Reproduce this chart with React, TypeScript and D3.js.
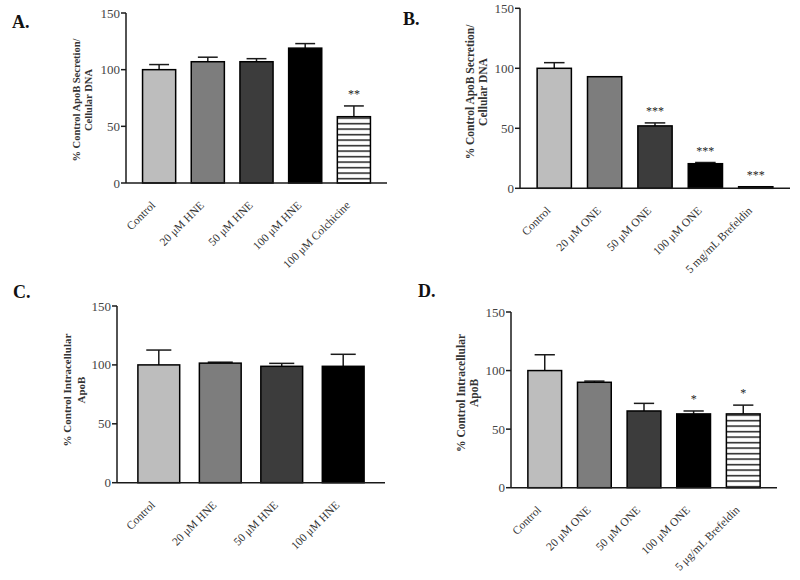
import React from "react";
import * as d3 from "d3";

// ---------- DATA ----------
const catsA = ["Control", "20 μM HNE", "50 μM HNE", "100 μM HNE", "100 μM Colchicine"];
const valsA = [100, 107, 107, 119, 58.5];
const errsA = [4.5, 4, 2.7, 4, 9.5];
const starsA = ["", "", "", "", "**"];

const catsB = ["Control", "20 μM ONE", "50 μM ONE", "100 μM ONE", "5 mg/mL Brefeldin"];
const valsB = [100, 93, 52, 20.5, 1.3];
const errsB = [4.7, 0, 2.5, 1, 0];
const starsB = ["", "", "***", "***", "***"];

const catsC = ["Control", "20 μM HNE", "50 μM HNE", "100 μM HNE"];
const valsC = [100, 101.5, 98.8, 98.8];
const errsC = [12.6, 0.8, 2.5, 10.2];
const starsC = ["", "", "", ""];

const catsD = ["Control", "20 μM ONE", "50 μM ONE", "100 μM ONE", "5 μg/mL Brefeldin"];
const valsD = [100, 90, 65.5, 63, 63];
const errsD = [13.5, 1, 6.5, 2.5, 7.5];
const starsD = ["", "", "", "*", "*"];

const yTicks = [0, 50, 100, 150];
const yMax = 150;

const titleAB = ["% Control ApoB Secretion/", "Cellular DNA"];
const titleCD = ["% Control Intracellular", "ApoB"];

const FILLS = ["#bdbdbd", "#7d7d7d", "#3c3c3c", "#000000", "url(#stripes)"];
const FONT = "'Liberation Serif', 'Times New Roman', serif";

type PanelProps = {
  letter: string;
  letterX: number;
  letterY: number;
  cats: string[];
  vals: number[];
  errs: number[];
  stars: string[];
  title: string[];
  x0: number;
  x1: number;
  yTop: number;
  yBot: number;
  titleX: number[];
  titleY: number;
  titleSize: number;
};

function Panel(p: PanelProps) {
  const x = d3
    .scaleBand<string>()
    .domain(p.cats)
    .range([p.x0, p.x1])
    .paddingInner(0.32)
    .paddingOuter(0.34);
  const y = d3.scaleLinear().domain([0, yMax]).range([p.yBot, p.yTop]);
  const bw = x.bandwidth();
  const ink = "#1a1a1a";
  return (
    <g>
      <text
        x={p.letterX}
        y={p.letterY}
        fontFamily={FONT}
        fontWeight="bold"
        fontSize={18}
        fill="#111"
      >
        {p.letter}
      </text>
      {p.title.map((t, i) => (
        <text
          key={i}
          transform={`translate(${p.titleX[i]},${p.titleY}) rotate(-90)`}
          textAnchor="middle"
          dominantBaseline="central"
          fontFamily={FONT}
          fontWeight="bold"
          fontSize={p.titleSize}
          fill="#333"
        >
          {t}
        </text>
      ))}
      {p.cats.map((c, i) => {
        const bx = x(c)!;
        const cx = bx + bw / 2;
        const top = y(p.vals[i]);
        const etop = y(p.vals[i] + p.errs[i]);
        const cap = bw * 0.3;
        return (
          <g key={c}>
            {p.errs[i] > 0 && (
              <g stroke={ink} strokeWidth={1.5}>
                <line x1={cx} x2={cx} y1={top} y2={etop} />
                <line x1={cx - cap} x2={cx + cap} y1={etop} y2={etop} />
              </g>
            )}
            <rect
              x={bx}
              y={top}
              width={bw}
              height={p.yBot - top}
              fill={FILLS[i]}
              stroke="#000"
              strokeWidth={1.5}
            />
            {p.stars[i] && (
              <text
                x={cx}
                y={etop - 8}
                textAnchor="middle"
                fontFamily={FONT}
                fontSize={12}
                fill="#222"
              >
                {p.stars[i]}
              </text>
            )}
            <text
              transform={`translate(${cx - 3},${p.yBot + 23}) rotate(-45)`}
              textAnchor="end"
              fontFamily={FONT}
              fontSize={11.5}
              fill="#333"
            >
              {c}
            </text>
          </g>
        );
      })}
      <line x1={p.x0} x2={p.x0} y1={p.yTop} y2={p.yBot} stroke={ink} strokeWidth={1.5} />
      <line x1={p.x0} x2={p.x1} y1={p.yBot} y2={p.yBot} stroke={ink} strokeWidth={1.5} />
      {yTicks.map((t) => (
        <g key={t}>
          <line x1={p.x0 - 5} x2={p.x0} y1={y(t)} y2={y(t)} stroke={ink} strokeWidth={1.5} />
          <text
            x={p.x0 - 6}
            y={y(t)}
            textAnchor="end"
            dominantBaseline="central"
            fontFamily={FONT}
            fontSize={13}
            fill="#444"
          >
            {t}
          </text>
        </g>
      ))}
    </g>
  );
}

export default function App() {
  return (
    <svg
      width={800}
      height={580}
      style={{ position: "absolute", left: 0, top: 0, background: "#fff" }}
    >
      <defs>
        <pattern id="stripes" patternUnits="userSpaceOnUse" width={8} height={5.5}>
          <rect width={8} height={5.5} fill="#fff" />
          <rect y={2} width={8} height={1.3} fill="#000" />
        </pattern>
      </defs>
      <rect width={800} height={580} fill="#fff" />
      <Panel
        letter="A."
        letterX={12}
        letterY={28}
        cats={catsA}
        vals={valsA}
        errs={errsA}
        stars={starsA}
        title={titleAB}
        x0={126}
        x1={387}
        yTop={13}
        yBot={183}
        titleX={[76, 88]}
        titleY={100}
        titleSize={10.5}
      />
      <Panel
        letter="B."
        letterX={403}
        letterY={25}
        cats={catsB}
        vals={valsB}
        errs={errsB}
        stars={starsB}
        title={titleAB}
        x0={520}
        x1={790}
        yTop={8.3}
        yBot={188.3}
        titleX={[470, 483]}
        titleY={92}
        titleSize={11.5}
      />
      <Panel
        letter="C."
        letterX={13}
        letterY={298}
        cats={catsC}
        vals={valsC}
        errs={errsC}
        stars={starsC}
        title={titleCD}
        x0={117}
        x1={385}
        yTop={306}
        yBot={482.7}
        titleX={[67, 81]}
        titleY={390}
        titleSize={11}
      />
      <Panel
        letter="D."
        letterX={418}
        letterY={297}
        cats={catsD}
        vals={valsD}
        errs={errsD}
        stars={starsD}
        title={titleCD}
        x0={511}
        x1={777}
        yTop={312}
        yBot={487.7}
        titleX={[461, 474]}
        titleY={393}
        titleSize={11.5}
      />
    </svg>
  );
}
